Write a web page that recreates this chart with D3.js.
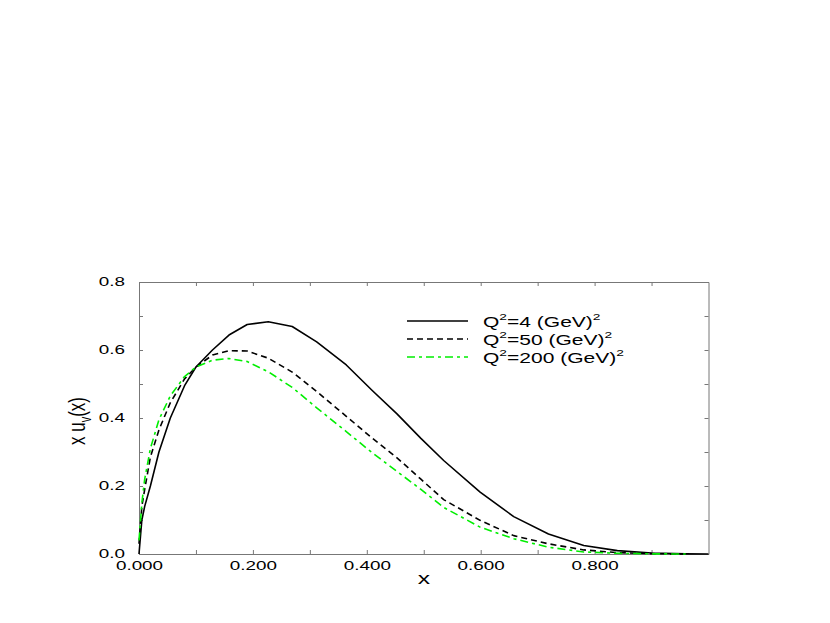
<!DOCTYPE html>
<meta charset="utf-8">
<style>
body { margin: 0; background: #fff; }
text { font-family: "Liberation Sans", Arial, sans-serif; fill: #000; }
</style>
<body>
<svg width="830" height="623"></svg>
<script src="https://d3js.org/d3.v7.min.js"></script>
<script>
// momentum fraction grid
var xs = [0, 0.005, 0.01, 0.02, 0.035, 0.055, 0.08, 0.1, 0.129, 0.158, 0.19, 0.227, 0.269,
          0.312, 0.364, 0.41, 0.453, 0.495, 0.535, 0.599, 0.658, 0.719, 0.781, 0.84, 0.9, 0.96, 1.0];

// x u_v(x) for the three scales
var q4   = [0, 0.10, 0.14, 0.20, 0.30, 0.40, 0.495, 0.55, 0.60, 0.644, 0.675, 0.683, 0.669,
            0.624, 0.556, 0.48, 0.412, 0.34, 0.275, 0.182, 0.110, 0.059, 0.025, 0.010, 0.003, 0.0005, 0];
var q50  = [0.03, 0.14, 0.19, 0.285, 0.365, 0.445, 0.515, 0.55, 0.585, 0.598, 0.597, 0.576, 0.535,
            0.478, 0.405, 0.34, 0.283, 0.22, 0.16, 0.099, 0.054, 0.030, 0.012, 0.004, 0.001, 0];
var q200 = [0.04, 0.15, 0.22, 0.31, 0.395, 0.465, 0.522, 0.55, 0.570, 0.575, 0.566, 0.536, 0.49,
            0.43, 0.36, 0.297, 0.243, 0.19, 0.137, 0.079, 0.045, 0.020, 0.006, 0.002, 0.0005, 0];

var legendLabels = ["4", "50", "200"];
var xTickValues = [0, 0.1, 0.2, 0.3, 0.4, 0.5, 0.6, 0.7, 0.8, 0.9];
var xTickLabels = {0: "0.000", 0.2: "0.200", 0.4: "0.400", 0.6: "0.600", 0.8: "0.800"};
var yTickValues = [0, 0.1, 0.2, 0.3, 0.4, 0.5, 0.6, 0.7, 0.8];
var yTickLabels = {0: "0.0", 0.2: "0.2", 0.4: "0.4", 0.6: "0.6", 0.8: "0.8"};

var margin = {top: 282, left: 139},
    width = 569.5,
    height = 272;
var stretch = 1.45; // the original lettering is wide

var svg = d3.select("svg")
  .append("g")
    .attr("transform", "translate(" + margin.left + "," + margin.top + ")");

var x = d3.scaleLinear().domain([0, 1]).range([0, width]);
var y = d3.scaleLinear().domain([0, 0.8]).range([height, 0]);

function fmt(map) {
  return function(d) {
    var k = Math.round(d * 10) / 10;
    return map[k] !== undefined ? map[k] : "";
  };
}

// frame: four axes, ticks pointing inward
var xAxis = svg.append("g")
  .attr("transform", "translate(0," + height + ")")
  .call(d3.axisBottom(x).tickValues(xTickValues).tickSizeInner(-4).tickSizeOuter(0)
        .tickPadding(6).tickFormat(fmt(xTickLabels)));
var yAxis = svg.append("g")
  .call(d3.axisLeft(y).tickValues(yTickValues).tickSizeInner(-4).tickSizeOuter(0)
        .tickPadding(14).tickFormat(fmt(yTickLabels)));
svg.append("g")
  .call(d3.axisTop(x).tickValues(xTickValues).tickSizeInner(-4).tickSizeOuter(0).tickFormat(""));
svg.append("g")
  .attr("transform", "translate(" + width + ",0)")
  .call(d3.axisRight(y).tickValues(yTickValues).tickSizeInner(-4).tickSizeOuter(0).tickFormat(""));

svg.selectAll(".domain, .tick line").attr("stroke", "#777").attr("stroke-width", 1);
svg.selectAll(".tick text")
  .attr("font-family", null)
  .attr("font-size", 13)
  .attr("fill", "#000")
  .attr("transform", "scale(" + stretch + ",1)");
xAxis.selectAll(".tick text").attr("dy", "0.75em");
yAxis.selectAll(".tick text").attr("x", -14 / stretch).attr("dy", "0.3em");

// curves
var series = [
  {vals: q4,   color: "#000",    dash: null},
  {vals: q50,  color: "#000",    dash: "6,4"},
  {vals: q200, color: "#00ee00", dash: "8,4,3,4"}
];

var line = d3.line()
  .x(function(d) { return x(d[0]); })
  .y(function(d) { return y(d[1]); });

series.forEach(function(s) {
  var pts = s.vals.map(function(v, i) { return [xs[i], v]; });
  svg.append("path")
    .datum(pts)
    .attr("d", line)
    .attr("fill", "none")
    .attr("stroke", s.color)
    .attr("stroke-width", 1.6)
    .attr("stroke-linejoin", "round")
    .attr("stroke-dasharray", s.dash);
});

// legend
var legend = d3.select("svg").append("g").attr("transform", "translate(407,321)");
series.forEach(function(s, i) {
  var row = legend.append("g").attr("transform", "translate(0," + (i * 18) + ")");
  row.append("line")
    .attr("x1", 0).attr("x2", 61)
    .attr("stroke", s.color)
    .attr("stroke-width", 1.6)
    .attr("stroke-dasharray", s.dash);
  var t = row.append("text")
    .attr("transform", "translate(76,6) scale(" + stretch + ",1)")
    .attr("font-size", 14.5);
  t.append("tspan").text("Q");
  t.append("tspan").attr("font-size", 9.5).attr("dy", -7).text("2");
  t.append("tspan").attr("dy", 7).text("=" + legendLabels[i] + " (GeV)");
  t.append("tspan").attr("font-size", 9.5).attr("dy", -7).text("2");
});

// axis titles
d3.select("svg").append("text")
  .attr("transform", "translate(424,584) scale(" + stretch + ",1)")
  .attr("text-anchor", "middle")
  .attr("font-size", 17)
  .text("x");

var yt = d3.select("svg").append("text")
  .attr("transform", "translate(85,421) scale(" + stretch + ",1) rotate(-90)")
  .attr("text-anchor", "middle")
  .attr("font-size", 17);
yt.append("tspan").text("x u");
yt.append("tspan").attr("font-size", 11).attr("dy", 4).text("v");
yt.append("tspan").attr("dy", -4).text("(x)");
</script>
</body>
